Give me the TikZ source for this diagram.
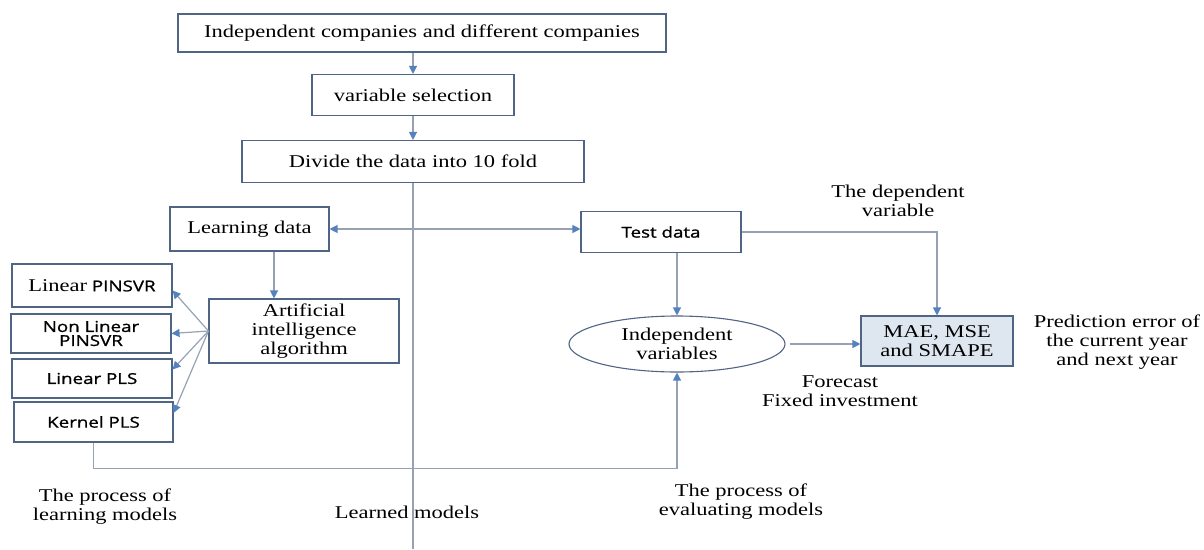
\documentclass[tikz,border=0pt]{standalone}
\usepackage{fontspec}
\setmainfont{Liberation Serif}[FakeStretch=1.25]
\setsansfont{Open Sans}[FakeStretch=1.25, FakeBold=1.2]
\usepackage{tikz}
\usetikzlibrary{graphs}
\usetikzlibrary{shapes.geometric}
\usetikzlibrary{arrows.meta}
\usepackage{xcolor}

\definecolor{boxline}{RGB}{80,100,132}
\definecolor{linkline}{RGB}{150,162,180}
\definecolor{tipblue}{RGB}{85,130,190}
\definecolor{maefill}{RGB}{222,230,240}

\tikzset{
    txt/.style={inner sep=0pt, align=center, font=\fontsize{18}{19}\selectfont},
    sanstxt/.style={inner sep=0pt, align=center, font=\sffamily\fontsize{15}{14}\selectfont},
    box/.style={draw=boxline, line width=1.1pt},
    link/.style={draw=linkline, line width=1.2pt},
    arr/.style={link, -{Triangle[length=8pt, width=8pt, color=tipblue]}},
    dblarr/.style={link, {Triangle[length=8pt, width=8pt, color=tipblue]}-{Triangle[length=8pt, width=8pt, color=tipblue]}},
}

\begin{document}
\begin{tikzpicture}[x=1pt, y=-1pt]
            \useasboundingbox (0, 0) rectangle (1204, 549);

            \node[txt, box, minimum width=488, minimum height=38] (top) at (422.0, 33.0) {Independent companies and different companies};
            \node[txt, box, minimum width=202, minimum height=41] (varsel) at (413.0, 95.0) {variable selection};
            \node[txt, box, minimum width=342, minimum height=42] (divide) at (413.0, 161.5) {Divide the data into 10 fold};
            \node[txt, box, minimum width=159, minimum height=44] (learn) at (249.5, 229.0) {Learning data};
            \node[sanstxt, box, minimum width=160, minimum height=41] (test) at (661.0, 232.0) {Test data};
            \node[txt, box, minimum width=190, minimum height=64] (ai) at (304.0, 331.0) {Artificial\\intelligence\\algorithm};
            \node[sanstxt, box, minimum width=160, minimum height=43] (linpin) at (92.0, 285.5) {{\rmfamily\fontsize{18}{19}\selectfont Linear} PINSVR};
            \node[sanstxt, box, minimum width=160, minimum height=39] (nlpin) at (91.0, 333.5) {Non Linear\\PINSVR};
            \node[sanstxt, box, minimum width=160, minimum height=39] (linpls) at (92.0, 378.5) {Linear PLS};
            \node[sanstxt, box, minimum width=159, minimum height=40] (kpls) at (93.5, 422.0) {Kernel PLS};
            \node[txt, box, ellipse, minimum width=216, minimum height=56] (indep) at (677.0, 344.0) {Independent\\variables};
            \node[txt, box, fill=maefill, minimum width=152, minimum height=50] (mae) at (937.0, 341.0) {MAE, MSE\\and SMAPE};

            \node[txt] (dep) at (898.0, 201.0) {The dependent\\variable};
            \node[txt] (pred) at (1117.0, 342.0) {Prediction error of\\the current year\\and next year};
            \node[txt] (fcast) at (840.0, 391.0) {Forecast\\Fixed investment};
            \node[txt] (plearn) at (105.0, 507.0) {The process of\\learning models};
            \node[txt] (learned) at (407.0, 512.0) {Learned models};
            \node[txt] (peval) at (741.0, 502.0) {The process of\\evaluating models};
            \coordinate (bottom) at (413.0, 549.0);

            \draw[arr] (top.south -| varsel.north) -- (varsel.north);
            \draw[arr] (varsel.south) -- (divide.north);
            \draw[link] (divide.south) -- (bottom);
            \draw[dblarr] (learn.east) -- (learn.east -| test.west);
            \draw[arr] ([xshift=24.5pt]learn.south) -- ([xshift=24.5pt]learn.south |- ai.north);
            \draw[arr] (ai.west) -- ([yshift=-5pt]linpin.east);
            \draw[arr] (ai.west) -- (nlpin.east);
            \draw[arr] (ai.west) -- ([yshift=9pt]linpls.east);
            \draw[arr] (ai.west) -- ([yshift=9pt]kpls.east);
            \draw[arr] (kpls.south) -- ++(0, 26) -| (indep.south);
            \draw[arr] (test.south -| indep.north) -- (indep.north);
            \draw[arr] (test.east) -| (mae.north);
            \draw[arr, shorten <=4pt] (indep.east) -- (indep.east -| mae.west);
        \end{tikzpicture}
\end{document}
